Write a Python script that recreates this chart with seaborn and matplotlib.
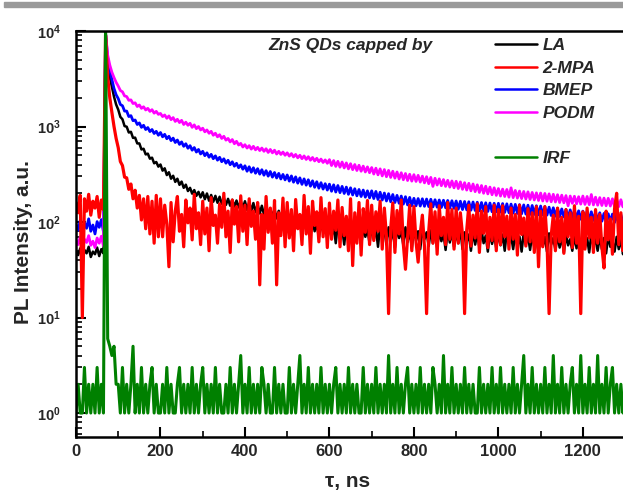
import numpy as np
import pandas as pd
import matplotlib
matplotlib.use("Agg")
import matplotlib.pyplot as plt
from matplotlib.lines import Line2D
from matplotlib.patches import Rectangle
from matplotlib.ticker import MultipleLocator, LogLocator, NullFormatter, FuncFormatter
import seaborn as sns

# channel grid (ns), 5 ns per channel
time_ns = np.arange(0, 1305, 5)

series_names = ["LA", "2-MPA", "BMEP", "PODM", "IRF"]
series_colors = ["#000000", "#ff0000", "#0000ff", "#ff00ff", "#008000"]

la = [
    50, 45, 53, 44, 51, 47, 55, 43, 49, 46, 54, 44, 52, 47, 9000, 4800, 3300, 2600, 2050, 1700,
    1500, 1260, 1190, 1010, 995, 865, 880, 760, 765, 665, 665, 575, 585, 510, 520, 460, 472, 412, 425, 380,
    400, 345, 365, 310, 332, 284, 305, 263, 284, 245, 265, 228, 246, 211, 228, 198, 216, 188, 207, 181,
    205, 173, 199, 167, 192, 163, 188, 159, 184, 155, 179, 151, 175, 148, 171, 145, 168, 142, 165, 140,
    165, 134, 161, 131, 158, 127, 153, 123, 148, 120, 143, 116, 139, 113, 135, 109, 131, 106, 127, 103,
    118, 82, 112, 76, 108, 90, 104, 70, 110, 84, 100, 72, 106, 80, 98, 68, 102, 78, 95, 66,
    96, 70, 92, 60, 98, 74, 88, 58, 94, 72, 90, 62, 86, 68, 92, 56, 88, 70, 84, 60,
    90, 66, 86, 55, 92, 70, 84, 58, 88, 64, 82, 54, 86, 68, 80, 57, 88, 62, 82, 53,
    86, 64, 80, 52, 84, 66, 78, 56, 82, 60, 88, 54, 80, 63, 76, 51, 82, 61, 78, 55,
    80, 60, 84, 52, 78, 62, 74, 50, 80, 58, 76, 54, 82, 60, 72, 49, 78, 59, 74, 53,
    78, 57, 74, 50, 80, 60, 72, 52, 76, 56, 70, 49, 78, 58, 72, 51, 74, 55, 70, 48,
    74, 56, 70, 49, 76, 58, 68, 51, 72, 54, 70, 48, 74, 57, 66, 50, 72, 53, 68, 47,
    72, 54, 68, 48, 74, 56, 66, 50, 70, 52, 68, 47, 72, 55, 64, 49, 70, 52, 66, 46,
    60,
]

mpa = [
    160, 125, 190, 10, 175, 130, 195, 118, 165, 140, 185, 112, 170, 135, 9000, 3300, 2000, 1400, 1000, 750,
    600, 430, 390, 295, 290, 220, 250, 175, 215, 140, 190, 105, 175, 85, 185, 75, 165, 60, 190, 70,
    175, 70, 150, 95, 34, 160, 62, 130, 185, 80, 120, 55, 170, 98, 140, 65, 195, 85, 125, 58,
    165, 75, 140, 50, 180, 92, 118, 60, 155, 88, 200, 70, 130, 48, 170, 95, 145, 62, 188, 80,
    150, 58, 175, 90, 130, 66, 160, 22, 120, 52, 185, 78, 140, 60, 168, 22, 125, 72, 178, 55,
    160, 68, 135, 50, 172, 85, 120, 58, 190, 75, 145, 47, 165, 92, 128, 62, 180, 70, 138, 54,
    158, 66, 130, 82, 170, 55, 142, 72, 115, 50, 175, 35, 125, 60, 160, 45, 138, 78, 168, 58,
    150, 64, 128, 80, 165, 52, 140, 70, 11, 85, 158, 48, 132, 75, 170, 58, 32, 68, 150, 50,
    145, 62, 38, 76, 118, 55, 11, 80, 155, 60, 128, 46, 148, 72, 112, 58, 160, 66, 135, 52,
    140, 60, 125, 74, 11, 82, 150, 56, 118, 68, 155, 48, 130, 76, 145, 54, 112, 64, 150, 50,
    135, 58, 148, 70, 115, 52, 140, 66, 120, 45, 150, 74, 110, 56, 138, 62, 125, 48, 145, 34,
    130, 55, 145, 65, 11, 72, 118, 50, 140, 62, 112, 47, 135, 70, 125, 54, 148, 60, 115, 11,
    128, 52, 140, 68, 112, 48, 135, 60, 120, 55, 33, 130, 65, 108, 46, 138, 200, 58, 125, 50,
    132,
]

bmep = [
    95, 82, 104, 78, 99, 86, 108, 80, 93, 75, 101, 88, 106, 79, 9500, 5200, 3900, 3100, 2500, 2150,
    1960, 1700, 1650, 1450, 1450, 1270, 1300, 1150, 1170, 1050, 1090, 980, 1030, 930, 975, 885, 930, 845, 890, 810,
    865, 780, 828, 745, 790, 712, 756, 680, 722, 650, 690, 620, 660, 592, 630, 565, 602, 540, 575, 516,
    550, 495, 530, 477, 511, 460, 493, 444, 476, 428, 459, 413, 443, 398, 427, 384, 412, 370, 397, 357,
    388, 340, 379, 332, 370, 324, 362, 317, 353, 309, 345, 302, 338, 295, 330, 289, 323, 282, 315, 276,
    311, 268, 304, 261, 297, 255, 290, 248, 283, 243, 277, 237, 270, 231, 264, 226, 258, 221, 252, 216,
    249, 210, 245, 206, 241, 203, 236, 199, 232, 195, 228, 192, 223, 188, 219, 185, 216, 182, 212, 179,
    212, 176, 209, 172, 205, 170, 201, 166, 198, 163, 194, 160, 190, 157, 187, 154, 184, 151, 181, 148,
    177, 148, 176, 147, 175, 146, 174, 145, 173, 144, 171, 143, 170, 142, 169, 141, 168, 140, 167, 139,
    166, 136, 165, 135, 164, 134, 163, 133, 162, 132, 161, 131, 160, 130, 159, 129, 158, 128, 157, 128,
    157, 127, 156, 126, 155, 125, 154, 124, 153, 123, 152, 122, 151, 121, 150, 120, 149, 120, 148, 119,
    147, 119, 145, 118, 143, 117, 141, 115, 139, 114, 137, 113, 135, 111, 134, 110, 132, 109, 131, 107,
    130, 106, 129, 105, 128, 104, 126, 103, 125, 102, 123, 101, 122, 100, 121, 99, 120, 98, 119, 97,
    112,
]

podm = [
    64, 58, 70, 55, 66, 61, 72, 57, 63, 54, 68, 60, 71, 56, 9500, 5600, 4400, 3700, 3250, 2900,
    2650, 2380, 2310, 2090, 2060, 1880, 1900, 1740, 1770, 1620, 1680, 1550, 1610, 1490, 1550, 1440, 1500, 1380, 1440, 1340,
    1370, 1270, 1320, 1220, 1290, 1180, 1240, 1130, 1190, 1100, 1160, 1050, 1110, 1030, 1080, 980, 1040, 950, 1000, 920,
    960, 880, 920, 850, 890, 810, 850, 780, 820, 750, 790, 720, 750, 690, 730, 660, 700, 640, 665, 610,
    645, 595, 630, 580, 620, 570, 605, 560, 595, 550, 585, 535, 575, 530, 565, 515, 550, 510, 540, 500,
    530, 490, 520, 480, 510, 470, 500, 460, 492, 452, 483, 444, 474, 436, 465, 428, 456, 420, 447, 412,
    450, 390, 440, 382, 432, 375, 425, 368, 416, 360, 408, 353, 400, 346, 393, 340, 385, 334, 378, 328,
    372, 318, 366, 312, 360, 304, 354, 298, 347, 293, 340, 288, 334, 282, 328, 277, 322, 272, 316, 268,
    313, 266, 308, 262, 302, 257, 298, 252, 293, 236, 287, 244, 283, 240, 278, 236, 273, 232, 269, 228,
    267, 224, 263, 220, 258, 216, 254, 212, 250, 208, 245, 204, 241, 200, 237, 197, 232, 193, 228, 190,
    224, 187, 221, 185, 219, 182, 228, 180, 214, 178, 211, 176, 209, 174, 207, 172, 204, 170, 202, 168,
    201, 166, 199, 165, 197, 163, 195, 162, 193, 160, 191, 159, 189, 148, 187, 157, 186, 155, 184, 154,
    187, 153, 185, 152, 194, 151, 182, 150, 180, 149, 178, 148, 177, 147, 175, 146, 173, 145, 171, 144,
    168,
]

irf = [
    1, 2, 1, 1, 3, 1, 2, 1, 2, 1, 3, 1, 2, 1, 12000, 6, 5, 4, 5, 2,
    2, 1, 3, 1, 2, 1, 2, 5, 1, 2, 1, 3, 1, 2, 1, 2, 3, 1, 2, 1,
    1, 2, 1, 3, 1, 2, 1, 1, 2, 3, 1, 2, 1, 2, 1, 3, 1, 2, 1, 2,
    3, 1, 2, 1, 2, 1, 3, 1, 2, 1, 1, 2, 1, 3, 1, 2, 1, 2, 4, 1,
    2, 1, 3, 1, 2, 1, 2, 1, 3, 2, 1, 2, 1, 1, 3, 1, 2, 1, 2, 1,
    1, 3, 1, 2, 1, 2, 4, 1, 2, 1, 3, 1, 2, 1, 2, 1, 3, 1, 2, 1,
    2, 1, 2, 3, 1, 2, 1, 2, 1, 3, 1, 2, 1, 2, 1, 1, 3, 1, 2, 1,
    2, 1, 3, 1, 2, 1, 2, 1, 4, 1, 2, 1, 3, 1, 2, 1, 2, 3, 1, 2,
    1, 2, 1, 3, 1, 2, 1, 2, 1, 3, 2, 1, 2, 1, 4, 1, 2, 1, 3, 1,
    2, 1, 2, 1, 3, 1, 2, 1, 2, 1, 1, 3, 1, 2, 1, 2, 1, 3, 1, 2,
    1, 3, 1, 2, 1, 2, 1, 3, 1, 2, 1, 2, 4, 1, 2, 1, 3, 1, 2, 1,
    2, 1, 3, 1, 2, 1, 4, 1, 2, 1, 3, 1, 2, 1, 2, 3, 1, 2, 1, 4,
    1, 2, 1, 3, 1, 2, 1, 4, 1, 2, 1, 3, 1, 2, 3, 1, 2, 1, 2, 1,
    2,
]

annotation = "ZnS QDs capped by"

# ---------------------------------------------------------------
values = {"LA": la, "2-MPA": mpa, "BMEP": bmep, "PODM": podm, "IRF": irf}
frames = []
for name in series_names:
    frames.append(pd.DataFrame({"t": time_ns, "v": values[name], "series": name}))
df = pd.concat(frames, ignore_index=True)

sns.set_style("ticks")
plt.rcParams["font.family"] = ["Liberation Sans", "DejaVu Sans"]
plt.rcParams["mathtext.fontset"] = "custom"
plt.rcParams["mathtext.rm"] = "Liberation Sans"
plt.rcParams["mathtext.bf"] = "Liberation Sans:bold"
plt.rcParams["font.weight"] = "bold"

W, H = 623, 491
fig = plt.figure(figsize=(W / 100, H / 100), dpi=100)
ax_left, ax_right, ax_top, ax_bot = 76, 623, 31, 437
ax = fig.add_axes([ax_left / W, 1 - ax_bot / H, (ax_right - ax_left) / W, (ax_bot - ax_top) / H])

# gray bar on top of the figure
fig.patches.append(Rectangle((4 / W, 1 - 6.5 / H), 1 - 4 / W, 4 / H,
                             transform=fig.transFigure, color="#9a9a9a", zorder=0))

color_of = dict(zip(series_names, series_colors))
width_of = {"LA": 1.8, "2-MPA": 2.3, "BMEP": 2.0, "PODM": 2.0, "IRF": 2.2}
draw_order = ["LA", "BMEP", "PODM", "2-MPA", "IRF"]
for z, name in enumerate(draw_order):
    sub = df[df["series"] == name]
    sns.lineplot(data=sub, x="t", y="v", color=color_of[name],
                 lw=width_of[name], estimator=None, sort=False,
                 ax=ax, legend=False, zorder=2 + z)

ax.set_yscale("log")
ax.set_xlim(0, 1295)
ax.set_ylim(0.561, 1e4)

ax.xaxis.set_major_locator(MultipleLocator(200))
ax.xaxis.set_minor_locator(MultipleLocator(100))
ax.yaxis.set_major_locator(LogLocator(base=10, subs=(1.0,)))
ax.yaxis.set_minor_locator(LogLocator(base=10, subs=np.arange(2, 10), numticks=20))
ax.yaxis.set_minor_formatter(NullFormatter())
ax.yaxis.set_major_formatter(FuncFormatter(lambda v, p: r"$\mathbf{10^{%d}}$" % int(round(np.log10(v)))))

ax.tick_params(axis="both", which="both", direction="in", top=False, right=False, color="black")
ax.tick_params(axis="both", which="major", length=7, width=1.5)
ax.tick_params(axis="both", which="minor", length=4, width=1.2)
ax.tick_params(axis="x", which="major", labelsize=12, pad=5)
ax.tick_params(axis="y", which="major", labelsize=10.5, pad=11)
for lab in ax.get_xticklabels():
    lab.set_fontweight("bold")

for s in ["left", "bottom", "top"]:
    ax.spines[s].set_linewidth(1.8)
    ax.spines[s].set_color("black")
    ax.spines[s].set_zorder(20)
ax.spines["right"].set_visible(False)

ax.set_xlabel("τ, ns", fontsize=15, fontweight="bold")
ax.set_ylabel("PL Intensity, a.u.", fontsize=15, fontweight="bold")
ax.xaxis.set_label_coords(0.497, -0.085)
ax.yaxis.set_label_coords(-0.078, 0.48)

ax.text(0.351, 0.9655, annotation, transform=ax.transAxes, ha="left", va="center",
        fontsize=12.5, fontweight="bold", fontstyle="italic")

handles = []
labels = []
for name in ["LA", "2-MPA", "BMEP", "PODM"]:
    handles.append(Line2D([], [], color=color_of[name], lw=1.8))
    labels.append(name)
handles.append(Line2D([], [], color="none"))
labels.append(" ")
handles.append(Line2D([], [], color=color_of["IRF"], lw=1.8))
labels.append("IRF")
ax.legend(handles, labels, loc="upper left", bbox_to_anchor=(0.766, 0.982), frameon=False,
          borderpad=0, borderaxespad=0, handlelength=2.4, handletextpad=0.35, labelspacing=0.42,
          prop=dict(family="Liberation Sans", weight="bold", style="italic", size=12.5))

ax.set_facecolor("white")
fig.patch.set_facecolor("white")
fig.savefig("out.png", dpi=100)
